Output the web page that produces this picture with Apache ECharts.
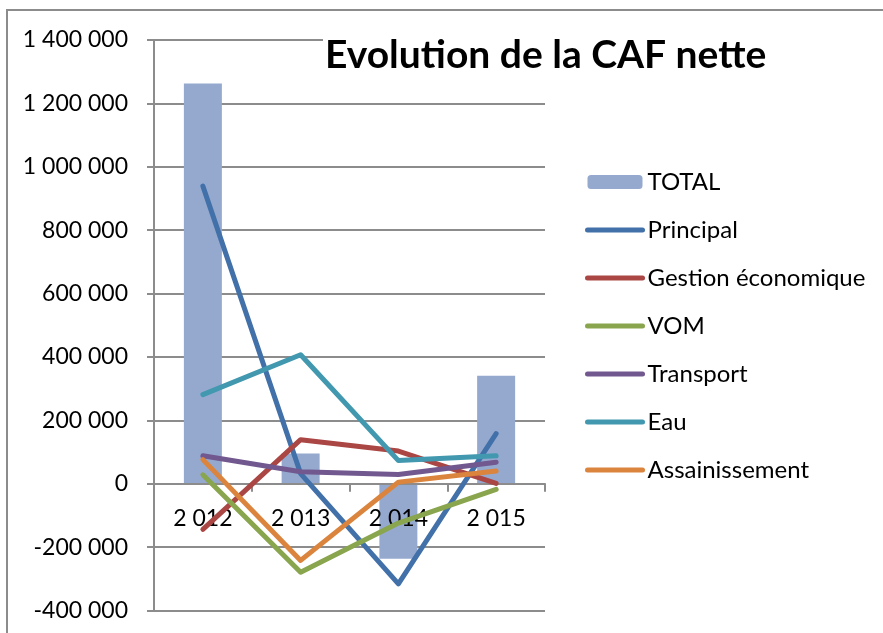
<!DOCTYPE html>
<html>
<head>
<meta charset="utf-8">
<script src="https://cdn.jsdelivr.net/npm/echarts@6/dist/echarts.min.js"></script>
<style>
html,body{margin:0;padding:0;background:#fff;}
#chart{width:883px;height:633px;}
</style>
</head>
<body>
<div id="chart"></div>
<script>
const categories = ['2 012', '2 013', '2 014', '2 015'];
const yTicks = { min: -400000, max: 1400000, interval: 200000 };
const total = [1263000, 95000, -237000, 341000];
const principal = [939000, 32000, -316000, 158000];
const gestion = [-144000, 139000, 103000, 1000];
const vom = [28000, -279000, -124000, -18000];
const transport = [88000, 38000, 29000, 68000];
const eau = [281000, 407000, 73000, 88000];
const assainissement = [76000, -242000, 5000, 40000];

const lineSeries = [
  ['Principal', principal, '#4271AA'],
  ['Gestion économique', gestion, '#AA4643'],
  ['VOM', vom, '#89A54E'],
  ['Transport', transport, '#71588F'],
  ['Eau', eau, '#4198AF'],
  ['Assainissement', assainissement, '#DB843D']
];

const FONT = 'Lato';
const GRID = '#8c8c8c';

function fmt(v) {
  const s = String(Math.abs(v)).replace(/\B(?=(\d{3})+(?!\d))/g, ' ');
  return (v < 0 ? '-' : '') + s;
}

const chart = echarts.init(document.getElementById('chart'), null, { renderer: 'canvas' });
const option = {
  animation: false,
  backgroundColor: '#fff',
  title: {
    text: 'Evolution de la CAF nette',
    left: 323, top: 32,
    padding: [4, 2],
    backgroundColor: '#fff',
    textStyle: { fontFamily: FONT, fontWeight: 'bold', fontSize: 39, color: '#000' }
  },
  grid: { left: 154, right: 338, top: 40, bottom: 22.5, containLabel: false, outerBoundsMode: 'none' },
  legend: {
    orient: 'vertical',
    left: 585, top: 170,
    padding: 0,
    itemGap: 24,
    itemWidth: 55, itemHeight: 14,
    lineStyle: { width: 5, cap: 'round' },
    textStyle: { fontFamily: FONT, fontSize: 24, color: '#000', lineHeight: 20 },
    data: [{ name: 'TOTAL' }].concat(lineSeries.map(s => ({ name: s[0], itemStyle: { opacity: 0 } })))
  },
  xAxis: {
    type: 'category',
    z: 1.5,
    data: categories,
    boundaryGap: true,
    axisLine: { onZero: true, lineStyle: { color: GRID, width: 2 } },
    axisTick: { show: true, length: 8, lineStyle: { color: GRID, width: 2 } },
    axisLabel: { fontFamily: FONT, fontSize: 23, color: '#000', margin: -103 },
    splitLine: { show: false }
  },
  yAxis: {
    type: 'value',
    z: 0,
    min: yTicks.min, max: yTicks.max, interval: yTicks.interval,
    axisLine: { show: true, lineStyle: { color: GRID, width: 2 } },
    axisTick: { show: true, length: 7, lineStyle: { color: GRID, width: 2 } },
    axisLabel: { fontFamily: FONT, fontSize: 23, color: '#000', margin: 26, formatter: fmt },
    splitLine: { show: true, lineStyle: { color: GRID, width: 2 } }
  },
  series: [
    {
      name: 'TOTAL', type: 'bar', data: total, barWidth: 38, z: 1,
      itemStyle: { color: '#95A9CF' }
    }
  ].concat(lineSeries.map(s => ({
    name: s[0], type: 'line', data: s[1], z: 2,
    symbol: 'none', showSymbol: false,
    lineStyle: { color: s[2], width: 5, cap: 'round', join: 'round' },
    itemStyle: { color: s[2] }
  }))),
  graphic: [{
    type: 'rect', silent: true, z: 100,
    shape: { x: 7, y: 10, width: 900, height: 700 },
    style: { fill: 'none', stroke: GRID, lineWidth: 2 }
  }]
};
chart.setOption(option);
</script>
</body>
</html>
